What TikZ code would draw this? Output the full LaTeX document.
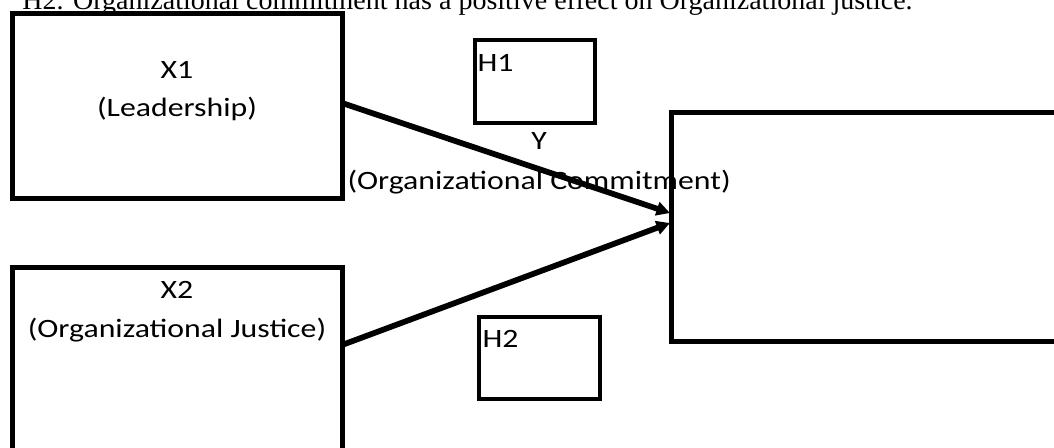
\documentclass[tikz,border=0pt]{standalone}
\usepackage{fontspec}
\setmainfont{Carlito}
\newfontfamily\hypfont{Liberation Serif}
\usetikzlibrary{arrows.meta,calc}

\newcommand{\wide}[1]{\scalebox{1.2}[1]{#1}}

\begin{document}
\begin{tikzpicture}[x=0.4pt,y=-0.4pt, varbox/.style={line width=2pt,draw=black}, hbox/.style={line width=1.6pt,draw=black}, lbl/.style={inner sep=0pt,font=\fontsize{10.6}{12}\selectfont}, arrowstyle/.style={-{Triangle[length=5.4pt,width=5.4pt]},line width=2.3pt}]

 \useasboundingbox (0,0) rectangle (1054,447);
 \clip (0,0) rectangle (1054,447);

 % box corners
 \coordinate (x1a) at (12,13);
 \coordinate (x1b) at (342,198);
 \coordinate (x2a) at (12,267);
 \coordinate (x2b) at (342,480);
 \coordinate (ya) at (671,112);
 \coordinate (yb) at (1090,341);
 \coordinate (h1a) at (475,40);
 \coordinate (h1b) at (595,123);
 \coordinate (h2a) at (479,317);
 \coordinate (h2b) at (600,399);

 % arrow ends
 \coordinate (x1out) at (342,103);
 \coordinate (x2out) at (342,345);
 \coordinate (yin1) at (670,213);
 \coordinate (yin2) at (670,223);

    \draw[varbox] (x1a) rectangle (x1b);
    \draw[varbox] (x2a) rectangle (x2b);
    \draw[varbox] (ya) rectangle (yb);
    \draw[hbox] (h1a) rectangle (h1b);
    \draw[hbox] (h2a) rectangle (h2b);

	\node[anchor=base west,inner sep=0pt] (hyp) at (22,9) {\resizebox{356pt}{\height}{\hypfont\fontsize{11}{13}\selectfont H2. Organizational commitment has a positive effect on Organizational justice.}};

	\node[lbl,anchor=base] (xone) at (177,78) {\wide{X1}};
	\node[lbl,anchor=base] (lead) at (177,116) {\wide{(Leadership)}};
	\node[lbl,anchor=base] (xtwo) at (177,298) {\wide{X2}};
	\node[lbl,anchor=base] (just) at (177,337) {\wide{(Organizational Justice)}};
	\node[lbl,anchor=base west] (hone) at (477,71) {\wide{H1}};
	\node[lbl,anchor=base west] (htwo) at (482,347) {\wide{H2}};
	\node[lbl,anchor=base] (ylab) at (539,149) {\wide{Y}};
	\node[lbl,anchor=base west] (comm) at (347,189) {\wide{(Organizational Commitment)}};

  \draw [arrowstyle] (x1out)--(yin1);
  \draw [arrowstyle] (x2out)--(yin2);
\end{tikzpicture}
\end{document}
